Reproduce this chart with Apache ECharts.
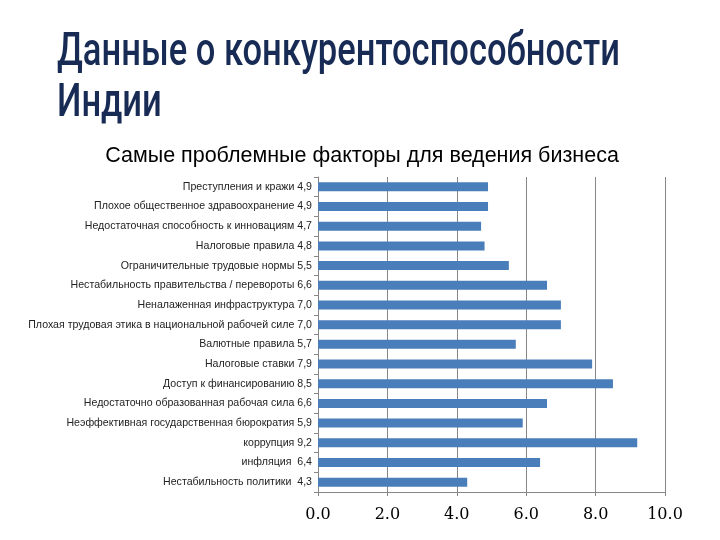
<!DOCTYPE html>
<html><head><meta charset="utf-8">
<script src="https://cdn.jsdelivr.net/npm/echarts@6/dist/echarts.min.js"></script>
<style>html,body{margin:0;padding:0;background:#fff}#c{width:720px;height:540px}</style>
</head><body><div id="c"></div>
<script>
const categories = [
  "Преступления и кражи 4,9",
  "Плохое общественное здравоохранение 4,9",
  "Недостаточная способность к инновациям 4,7",
  "Налоговые правила 4,8",
  "Ограничительные трудовые нормы 5,5",
  "Нестабильность правительства / перевороты 6,6",
  "Неналаженная инфраструктура 7,0",
  "Плохая трудовая этика в национальной рабочей силе 7,0",
  "Валютные правила 5,7",
  "Налоговые ставки 7,9",
  "Доступ к финансированию 8,5",
  "Недостаточно образованная рабочая сила 6,6",
  "Неэффективная государственная бюрократия 5,9",
  "коррупция 9,2",
  "инфляция  6,4",
  "Нестабильность политики  4,3"
];
const values = [4.9, 4.9, 4.7, 4.8, 5.5, 6.6, 7.0, 7.0, 5.7, 7.9, 8.5, 6.6, 5.9, 9.2, 6.4, 4.3];
const xTicks = { min: 0, max: 10, interval: 2 };
const titleLines = ['Данные о конкурентоспособности', 'Индии'];

const titleFont = '500 46px Roboto';
const ctx = document.createElement('canvas').getContext('2d');
ctx.font = titleFont;
const w1 = ctx.measureText(titleLines[0]).width;
const sx = 563 / w1;

const chart = echarts.init(document.getElementById('c'));
chart.setOption({
  backgroundColor: '#ffffff',
  animation: false,
  graphic: [
    { type: 'text', x: 57, y: 28, scaleX: sx, style: { text: titleLines.join('\n'), font: titleFont, fill: '#172b55', lineHeight: 51 } }
  ],
  title: [
    { text: 'Самые проблемные факторы для ведения бизнеса', left: 357, top: 140, textAlign: 'center',
      textStyle: { fontFamily: 'Liberation Sans, Arial, sans-serif', fontSize: 21.5, fontWeight: 'normal', color: '#000' } }
  ],
  grid: { left: 318, right: 55, top: 177, bottom: 48, containLabel: false },
  xAxis: {
    type: 'value', min: xTicks.min, max: xTicks.max, interval: xTicks.interval,
    axisLine: { show: true, lineStyle: { color: '#868686' } },
    axisTick: { show: true, length: 4, lineStyle: { color: '#868686' } },
    splitLine: { show: true, lineStyle: { color: '#868686', width: 1 } },
    axisLabel: { formatter: v => v.toFixed(1), fontFamily: 'DejaVu Serif, serif', fontSize: 16, color: '#000', margin: 15 }
  },
  yAxis: {
    type: 'category', data: categories, inverse: true,
    axisLine: { show: true, lineStyle: { color: '#868686' } },
    axisTick: { show: true, length: 4, lineStyle: { color: '#868686' } },
    axisLabel: { fontFamily: 'Liberation Sans, Arial, sans-serif', fontSize: 10.6, color: '#222', margin: 6 }
  },
  series: [{
    type: 'bar', data: values, barWidth: 9,
    itemStyle: { color: '#4a7ebb' }
  }]
});
</script></body></html>
